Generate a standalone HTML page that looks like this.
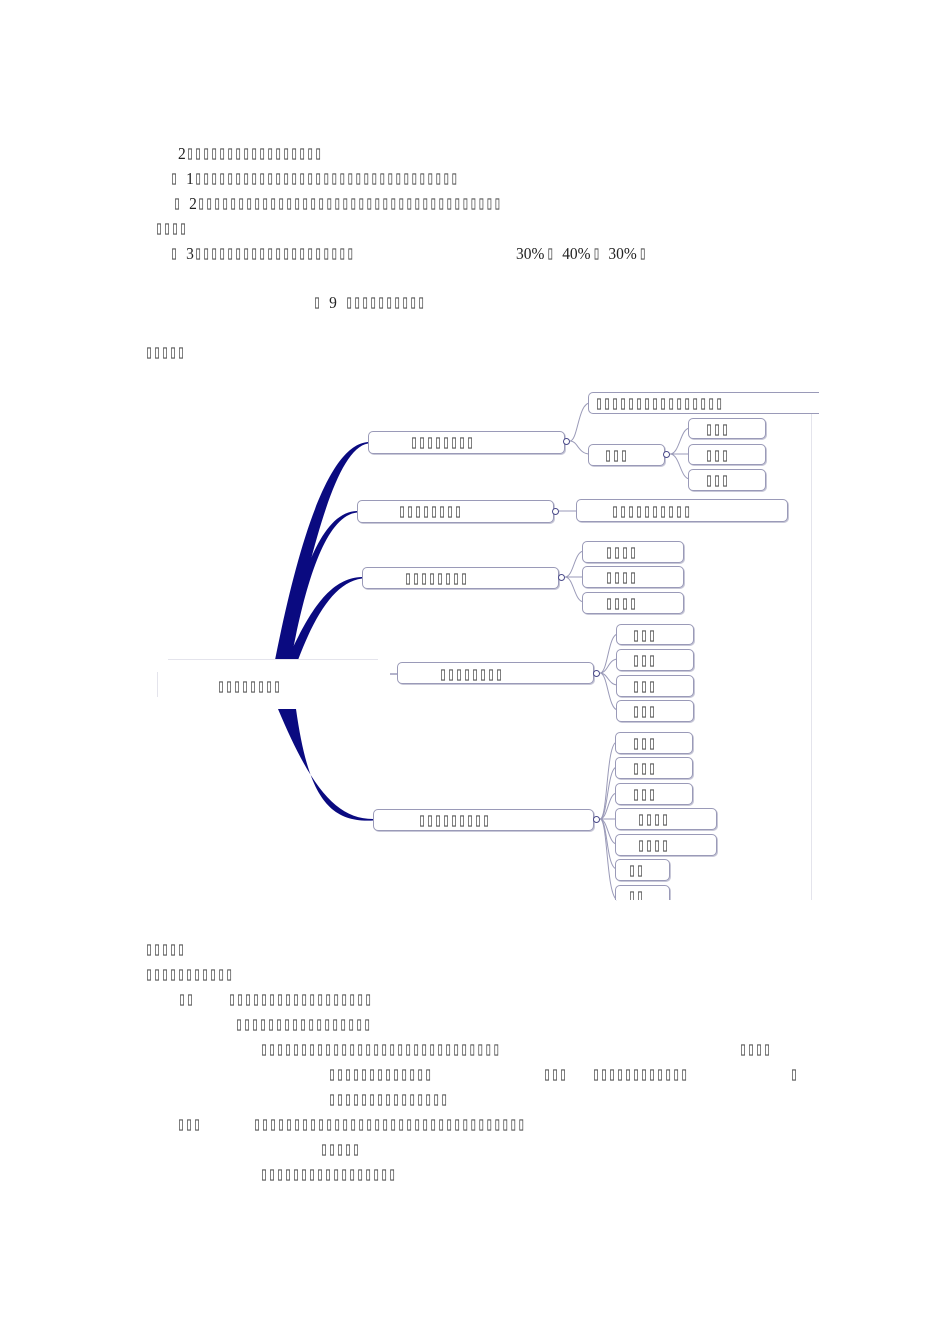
<!DOCTYPE html>
<html><head><meta charset="utf-8"><style>
body{margin:0;width:950px;height:1344px;background:#fff;position:relative;overflow:hidden}
.t{position:absolute;font-family:"DejaVu Sans Mono","Liberation Mono",monospace;font-size:19px;letter-spacing:0;color:#555;line-height:20px;white-space:pre;transform:translateY(-10px) scaleX(0.7);transform-origin:0 50%}
.n{font-family:"Liberation Serif",serif;font-size:17px;color:#222;display:inline-block;transform:scaleX(1.3);transform-origin:0 50%;margin-right:3px}
.b{position:absolute;border:1px solid #9a9ab8;border-radius:5px;box-shadow:1px 1px 0 #c8c8d8;background:#fff}
.c{position:absolute;width:5px;height:5px;border:1.3px solid #4a4a8a;border-radius:50%;background:#fff}
</style></head><body>
<div class="t" style="left:178px;top:153px"><span class="n">2</span>▯▯▯▯▯▯▯▯▯▯▯▯▯▯▯▯▯</div>
<div class="t" style="left:170px;top:178px">▯ <span class="n">1</span>▯▯▯▯▯▯▯▯▯▯▯▯▯▯▯▯▯▯▯▯▯▯▯▯▯▯▯▯▯▯▯▯▯</div>
<div class="t" style="left:173px;top:203px">▯ <span class="n">2</span>▯▯▯▯▯▯▯▯▯▯▯▯▯▯▯▯▯▯▯▯▯▯▯▯▯▯▯▯▯▯▯▯▯▯▯▯▯▯</div>
<div class="t" style="left:155px;top:228px">▯▯▯▯</div>
<div class="t" style="left:170px;top:253px">▯ <span class="n">3</span>▯▯▯▯▯▯▯▯▯▯▯▯▯▯▯▯▯▯▯▯</div>
<div class="t" style="left:516px;top:253px"><span class="n" style="margin-right:12px">30%</span>▯ <span class="n" style="margin-right:12px">40%</span>▯ <span class="n" style="margin-right:12px">30%</span>▯</div>
<div class="t" style="left:313px;top:302px">▯ <span class="n">9</span> ▯▯▯▯▯▯▯▯▯▯</div>
<div class="t" style="left:145px;top:352px">▯▯▯▯▯</div>

<svg style="position:absolute;left:0;top:0" width="950" height="1344">
<g fill="#0a0a80">
<path d="M275 660 C295 560 325 445 368 442 L368 443.5 C334 449 310 560 287 660Z"/>
<path d="M280 660 C300 580 320 512 357 511 L357 512.5 C325 516 305 585 291 660Z"/>
<path d="M287 660 C310 610 330 578 362 577 L362 578.5 C335 582 315 615 298 660Z"/>
<path d="M278 709 C310 785 335 819 373 819 L373 820.5 C328 823 308 795 296 709Z"/>
</g>
<g stroke="#e4e4ec" stroke-width="1"><line x1="168" y1="659.5" x2="378" y2="659.5"/><line x1="157.5" y1="672" x2="157.5" y2="697"/><line x1="811.5" y1="392" x2="811.5" y2="900"/></g>
<line x1="390" y1="674" x2="397" y2="674" stroke="#6a6a9a"/>
<g stroke="#9a9ab8" fill="none" stroke-width="1">
<path d="M570 441 C578 441 578 403 590 403"/><path d="M570 441 C578 441 578 454 590 454"/>
<path d="M670 454 C680 454 680 428 690 428"/><path d="M670 454 H690"/><path d="M670 454 C680 454 680 479 690 479"/>
<path d="M559 511 H576"/>
<path d="M565 577 C574 577 574 551 584 551"/><path d="M565 577 H584"/><path d="M565 577 C574 577 574 602 584 602"/>
<path d="M600 673 C608 673 608 634 618 634"/><path d="M600 673 C608 673 608 659 618 659"/><path d="M600 673 C608 673 608 685 618 685"/><path d="M600 673 C608 673 608 710 618 710"/>
<path d="M600 819 C608 819 606 742 617 742"/><path d="M600 819 C608 819 607 767 617 767"/><path d="M600 819 C608 819 608 793 617 793"/><path d="M600 819 H617"/><path d="M600 819 C608 819 608 844 617 844"/><path d="M600 819 C608 819 606 869 617 869"/><path d="M600 819 C608 819 606 894 617 900"/>
</g>
</svg>

<div class="t" style="left:217px;top:686px">▯▯▯▯▯▯▯▯</div>

<div class="b" style="left:368px;top:431px;width:195px;height:21px"></div><div class="t" style="left:410px;top:442px">▯▯▯▯▯▯▯▯</div><div class="c" style="left:563px;top:438px"></div>
<div class="b" style="left:588px;top:392px;width:230px;height:20px;border-radius:5px 0 0 5px;border-right:none;box-shadow:none"></div><div class="t" style="left:595px;top:403px">▯▯▯▯▯▯▯▯▯▯▯▯▯▯▯▯</div>
<div class="b" style="left:588px;top:444px;width:75px;height:20px"></div><div class="t" style="left:604px;top:455px">▯▯▯</div><div class="c" style="left:663px;top:451px"></div>
<div class="b" style="left:688px;top:418px;width:76px;height:19px"></div><div class="t" style="left:705px;top:429px">▯▯▯</div>
<div class="b" style="left:688px;top:444px;width:76px;height:19px"></div><div class="t" style="left:705px;top:455px">▯▯▯</div>
<div class="b" style="left:688px;top:469px;width:76px;height:20px"></div><div class="t" style="left:705px;top:480px">▯▯▯</div>

<div class="b" style="left:357px;top:500px;width:195px;height:21px"></div><div class="t" style="left:398px;top:511px">▯▯▯▯▯▯▯▯</div><div class="c" style="left:552px;top:508px"></div>
<div class="b" style="left:576px;top:499px;width:210px;height:21px"></div><div class="t" style="left:611px;top:511px">▯▯▯▯▯▯▯▯▯▯</div>

<div class="b" style="left:362px;top:567px;width:195px;height:20px"></div><div class="t" style="left:404px;top:578px">▯▯▯▯▯▯▯▯</div><div class="c" style="left:558px;top:574px"></div>
<div class="b" style="left:582px;top:541px;width:100px;height:20px"></div><div class="t" style="left:605px;top:552px">▯▯▯▯</div>
<div class="b" style="left:582px;top:566px;width:100px;height:20px"></div><div class="t" style="left:605px;top:577px">▯▯▯▯</div>
<div class="b" style="left:582px;top:592px;width:100px;height:20px"></div><div class="t" style="left:605px;top:603px">▯▯▯▯</div>

<div class="b" style="left:397px;top:662px;width:195px;height:20px"></div><div class="t" style="left:439px;top:674px">▯▯▯▯▯▯▯▯</div><div class="c" style="left:593px;top:670px"></div>
<div class="b" style="left:616px;top:624px;width:76px;height:19px"></div><div class="t" style="left:632px;top:635px">▯▯▯</div>
<div class="b" style="left:616px;top:649px;width:76px;height:20px"></div><div class="t" style="left:632px;top:660px">▯▯▯</div>
<div class="b" style="left:616px;top:675px;width:76px;height:20px"></div><div class="t" style="left:632px;top:686px">▯▯▯</div>
<div class="b" style="left:616px;top:700px;width:76px;height:20px"></div><div class="t" style="left:632px;top:711px">▯▯▯</div>

<div class="b" style="left:373px;top:809px;width:219px;height:20px"></div><div class="t" style="left:418px;top:820px">▯▯▯▯▯▯▯▯▯</div><div class="c" style="left:593px;top:816px"></div>
<div class="b" style="left:615px;top:732px;width:76px;height:20px"></div><div class="t" style="left:632px;top:743px">▯▯▯</div>
<div class="b" style="left:615px;top:757px;width:76px;height:20px"></div><div class="t" style="left:632px;top:768px">▯▯▯</div>
<div class="b" style="left:615px;top:783px;width:76px;height:20px"></div><div class="t" style="left:632px;top:794px">▯▯▯</div>
<div class="b" style="left:615px;top:808px;width:100px;height:20px"></div><div class="t" style="left:637px;top:819px">▯▯▯▯</div>
<div class="b" style="left:615px;top:834px;width:100px;height:20px"></div><div class="t" style="left:637px;top:845px">▯▯▯▯</div>
<div class="b" style="left:615px;top:859px;width:53px;height:20px"></div><div class="t" style="left:628px;top:870px">▯▯</div>
<div style="position:absolute;left:610px;top:885px;width:70px;height:15px;overflow:hidden"><div class="b" style="left:5px;top:0;width:53px;height:20px"></div><div class="t" style="left:18px;top:11px">▯▯</div></div>

<div class="t" style="left:145px;top:949px">▯▯▯▯▯</div>
<div class="t" style="left:145px;top:974px">▯▯▯▯▯▯▯▯▯▯▯</div>
<div class="t" style="left:178px;top:999px">▯▯</div><div class="t" style="left:228px;top:999px">▯▯▯▯▯▯▯▯▯▯▯▯▯▯▯▯▯▯</div>
<div class="t" style="left:235px;top:1024px">▯▯▯▯▯▯▯▯▯▯▯▯▯▯▯▯▯</div>
<div class="t" style="left:260px;top:1049px">▯▯▯▯▯▯▯▯▯▯▯▯▯▯▯▯▯▯▯▯▯▯▯▯▯▯▯▯▯▯</div><div class="t" style="left:739px;top:1049px">▯▯▯▯</div>
<div class="t" style="left:328px;top:1074px">▯▯▯▯▯▯▯▯▯▯▯▯▯</div><div class="t" style="left:543px;top:1074px">▯▯▯</div><div class="t" style="left:592px;top:1074px">▯▯▯▯▯▯▯▯▯▯▯▯</div><div class="t" style="left:790px;top:1074px">▯</div>
<div class="t" style="left:328px;top:1099px">▯▯▯▯▯▯▯▯▯▯▯▯▯▯▯</div>
<div class="t" style="left:177px;top:1124px">▯▯▯</div><div class="t" style="left:253px;top:1124px">▯▯▯▯▯▯▯▯▯▯▯▯▯▯▯▯▯▯▯▯▯▯▯▯▯▯▯▯▯▯▯▯▯▯</div>
<div class="t" style="left:320px;top:1149px">▯▯▯▯▯</div>
<div class="t" style="left:260px;top:1174px">▯▯▯▯▯▯▯▯▯▯▯▯▯▯▯▯▯</div>
</body></html>
